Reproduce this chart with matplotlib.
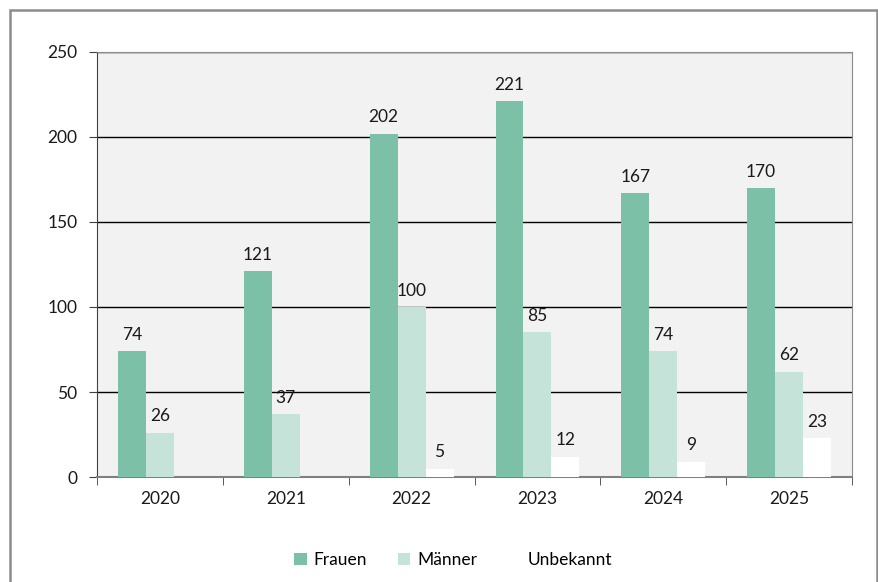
import numpy as np
import matplotlib.pyplot as plt
from matplotlib.patches import Rectangle

# data
years = ['2020', '2021', '2022', '2023', '2024', '2025']
frauen = [74, 121, 202, 221, 167, 170]
maenner = [26, 37, 100, 85, 74, 62]
unbekannt = [0, 0, 5, 12, 9, 23]

plt.rcParams['font.family'] = ['Lato', 'DejaVu Sans']

fig = plt.figure(figsize=(8.79, 5.82), dpi=100)
ax = fig.add_axes([0.1104, 0.1804, 0.8589, 0.7303])
ax.set_facecolor('#f2f2f2')

# outer frame
fig.patches.append(Rectangle((10/879, -0.05), 867/879, 1.05 - 10/582, transform=fig.transFigure,
                             fill=False, ec='#8c8c8c', lw=1.8))

x = np.arange(len(years))
w = 0.222
fs = 12.5
series = [(frauen, '#7dc0a8', 'Frauen'), (maenner, '#c5e3d8', 'Männer'), (unbekannt, 'white', 'Unbekannt')]
for i, (vals, col, lab) in enumerate(series):
    bars = ax.bar(x + (i - 1)*w, vals, w, color=col, label=lab, zorder=3)
    for b, v in zip(bars, vals):
        if v > 0:
            ax.annotate(str(v), (b.get_x() + b.get_width()/2, v), xytext=(0, 6),
                        textcoords='offset points', ha='center', va='bottom',
                        fontsize=fs, color='#1a1a1a', zorder=5)

ax.set_xlim(-0.5, 5.5)
ax.set_ylim(0, 250)
ax.set_yticks(range(0, 251, 50))
ax.yaxis.grid(True, color='black', lw=1, zorder=1)
ax.set_axisbelow(True)

ax.set_xticks(x)
ax.set_xticklabels(years)
ax.set_xticks(np.arange(-0.5, 6, 1), minor=True)
ax.tick_params(axis='x', which='major', length=0, pad=10, labelsize=fs, colors='#1a1a1a')
ax.tick_params(axis='x', which='minor', length=6, direction='out', color='#404040')
ax.tick_params(axis='y', length=6, direction='out', labelsize=fs, colors='#1a1a1a', color='#404040', pad=8)

for s in ['top', 'right']:
    ax.spines[s].set_color('#8c8c8c')
ax.spines['left'].set_color('#404040')
ax.spines['bottom'].set_color('#808080')
ax.spines['bottom'].set_linewidth(1.5)

leg = ax.legend(loc='center', bbox_to_anchor=(0.472, -0.195), ncol=3, frameon=False,
                fontsize=fs, handlelength=0.7, handleheight=0.7, handletextpad=0.4,
                columnspacing=1.8)

fig.savefig('out.png', dpi=100)
